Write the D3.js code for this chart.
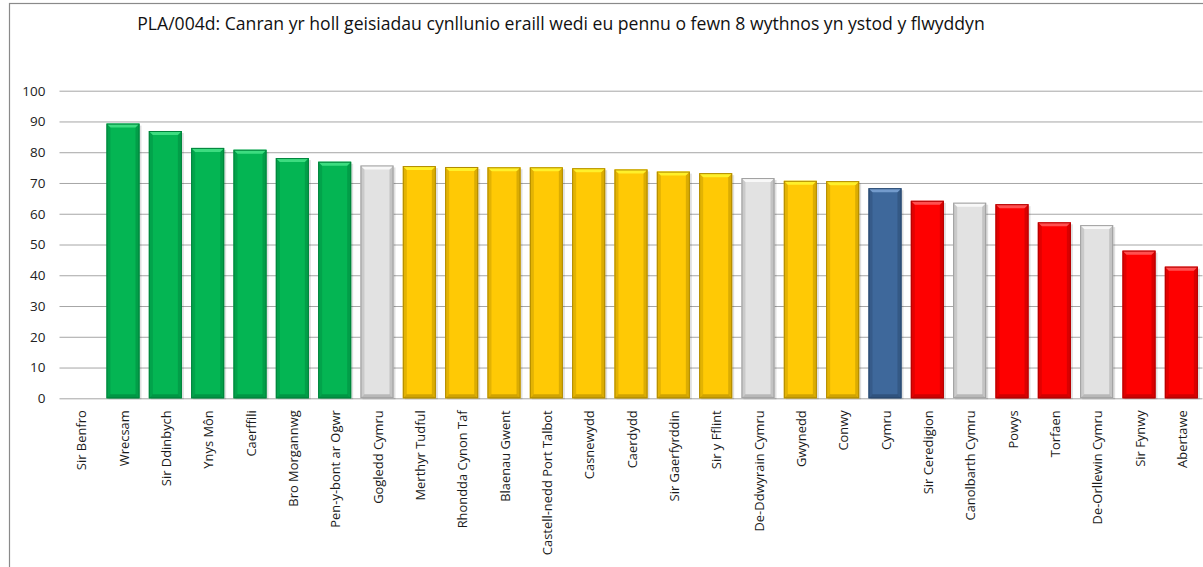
<!DOCTYPE html>
<html><head><meta charset="utf-8">
<script src="https://cdn.jsdelivr.net/npm/d3@7"></script>
<style>body{margin:0;background:#fff}svg{display:block}</style>
</head><body>
<script>
const titleText = "PLA/004d: Canran yr holl geisiadau cynllunio eraill wedi eu pennu o fewn 8 wythnos yn ystod y flwyddyn";
const categories = ["Sir Benfro","Wrecsam","Sir Ddinbych","Ynys Môn","Caerffili","Bro Morgannwg","Pen-y-bont ar Ogwr","Gogledd Cymru","Merthyr Tudful","Rhondda Cynon Taf","Blaenau Gwent","Castell-nedd Port Talbot","Casnewydd","Caerdydd","Sir Gaerfyrddin","Sir y Fflint","De-Ddwyrain Cymru","Gwynedd","Conwy","Cymru","Sir Ceredigion","Canolbarth Cymru","Powys","Torfaen","De-Orllewin Cymru","Sir Fynwy","Abertawe"];
const values = [null,89.3,86.9,81.4,80.8,78.1,76.9,75.7,75.5,75.2,75.1,75.1,74.8,74.4,73.7,73.2,71.6,70.7,70.6,68.3,64.2,63.6,63.1,57.2,56.3,48.0,42.8];
const groups = ["top","top","top","top","top","top","top","region","mid","mid","mid","mid","mid","mid","mid","mid","region","mid","mid","wales","bottom","region","bottom","bottom","region","bottom","bottom"];
const yTicks = [0,10,20,30,40,50,60,70,80,90,100];

const W = 1203, H = 567;
const m = {left: 59.5, right: 0.5, top: 90.7, bottom: 168.7};
const svg = d3.select("body").append("svg").attr("width", W).attr("height", H);
const FONT = "'Liberation Sans Narrow', 'Open Sans', sans-serif";

const pal = {
  top:    {base:"#04b553", light:"#3ddc80", dark:"#00823b"},
  mid:    {base:"#ffc905", light:"#fff02a", dark:"#b08a00"},
  region: {base:"#e2e2e2", light:"#f8f8f8", dark:"#9d9d9d"},
  wales:  {base:"#3e689b", light:"#739bcc", dark:"#28466b"},
  bottom: {base:"#fe0000", light:"#ff5050", dark:"#b00000"}
};

// chart frame (extends beyond the right/bottom edges)
svg.append("rect").attr("x", 9.5).attr("y", 3.5).attr("width", W + 20).attr("height", H + 20)
  .attr("fill", "#fff").attr("stroke", "#8a8a8a").attr("stroke-width", 1.2);

const x = d3.scaleBand().domain(categories).range([m.left, W - m.right]).paddingInner(0.22).paddingOuter(0.11);
const y = d3.scaleLinear().domain([0, 100]).range([H - m.bottom, m.top]);

// gridlines
const yAxis = d3.axisLeft(y).tickValues(yTicks).tickSize(-(W - m.right - m.left)).tickPadding(14);
const gy = svg.append("g").attr("transform", `translate(${m.left},0)`).call(yAxis);
gy.select(".domain").remove();
gy.selectAll(".tick line").attr("stroke", "#a6a6a6").attr("stroke-width", 1);
gy.selectAll(".tick text").attr("font-family", "'Open Sans', sans-serif").attr("font-size", 13.5).attr("fill", "#222");

// bars
const bars = svg.append("g").selectAll("g").data(categories.map((c, i) => ({c, v: values[i], g: groups[i]})).filter(d => d.v != null))
  .join("g");
const bw = x.bandwidth();
bars.each(function(d) {
  const g = d3.select(this);
  const x0 = x(d.c), y0 = y(d.v), y1 = y(0), h = y1 - y0, p = pal[d.g], b = 4;
  g.append("rect").attr("x", x0 + 2).attr("y", y0 + 2).attr("width", bw).attr("height", h - 1)
    .attr("fill", "#000").attr("opacity", 0.12);
  g.append("rect").attr("x", x0).attr("y", y0).attr("width", bw).attr("height", h).attr("fill", p.base);
  g.append("polygon").attr("points", [[x0, y0], [x0 + b, y0 + b], [x0 + b, y1 - b], [x0, y1]].join(" "))
    .attr("fill", p.dark).attr("opacity", 0.35);
  g.append("polygon").attr("points", [[x0 + bw, y0], [x0 + bw - b, y0 + b], [x0 + bw - b, y1 - b], [x0 + bw, y1]].join(" "))
    .attr("fill", p.dark).attr("opacity", 0.45);
  g.append("polygon").attr("points", [[x0, y1], [x0 + b, y1 - b], [x0 + bw - b, y1 - b], [x0 + bw, y1]].join(" "))
    .attr("fill", p.dark).attr("opacity", 0.6);
  g.append("polygon").attr("points", [[x0, y0], [x0 + bw, y0], [x0 + bw - b, y0 + b], [x0 + b, y0 + b]].join(" "))
    .attr("fill", p.light);
  g.append("rect").attr("x", x0 + 0.5).attr("y", y0 + 0.5).attr("width", bw - 1).attr("height", h - 1)
    .attr("fill", "none").attr("stroke", p.dark).attr("stroke-width", 1);
});

// category labels
const xAxis = d3.axisBottom(x).tickSize(0).tickPadding(0);
const gx = svg.append("g").attr("transform", `translate(0,${y(0)})`).call(xAxis);
gx.select(".domain").remove();
const labels = gx.selectAll(".tick text")
  .attr("font-family", FONT).attr("font-size", 13).attr("fill", "#1a1a1a")
  .attr("text-anchor", "end").attr("transform", "rotate(-90)")
  .attr("x", -12).attr("y", 1).attr("dy", "0.36em");
let ref = labels.filter(d => d === "Castell-nedd Port Talbot").node();
if (ref) {
  const len = ref.getComputedTextLength();
  labels.attr("font-size", (13 * 145 / len).toFixed(2));
}

// title
const t = svg.append("text").attr("x", 561).attr("y", 30).attr("text-anchor", "middle")
  .attr("font-family", FONT).attr("font-size", 15).attr("fill", "#111").text(titleText);
const tl = t.node().getComputedTextLength();
t.attr("font-size", (15 * 848 / tl).toFixed(2));
</script>
</body></html>
